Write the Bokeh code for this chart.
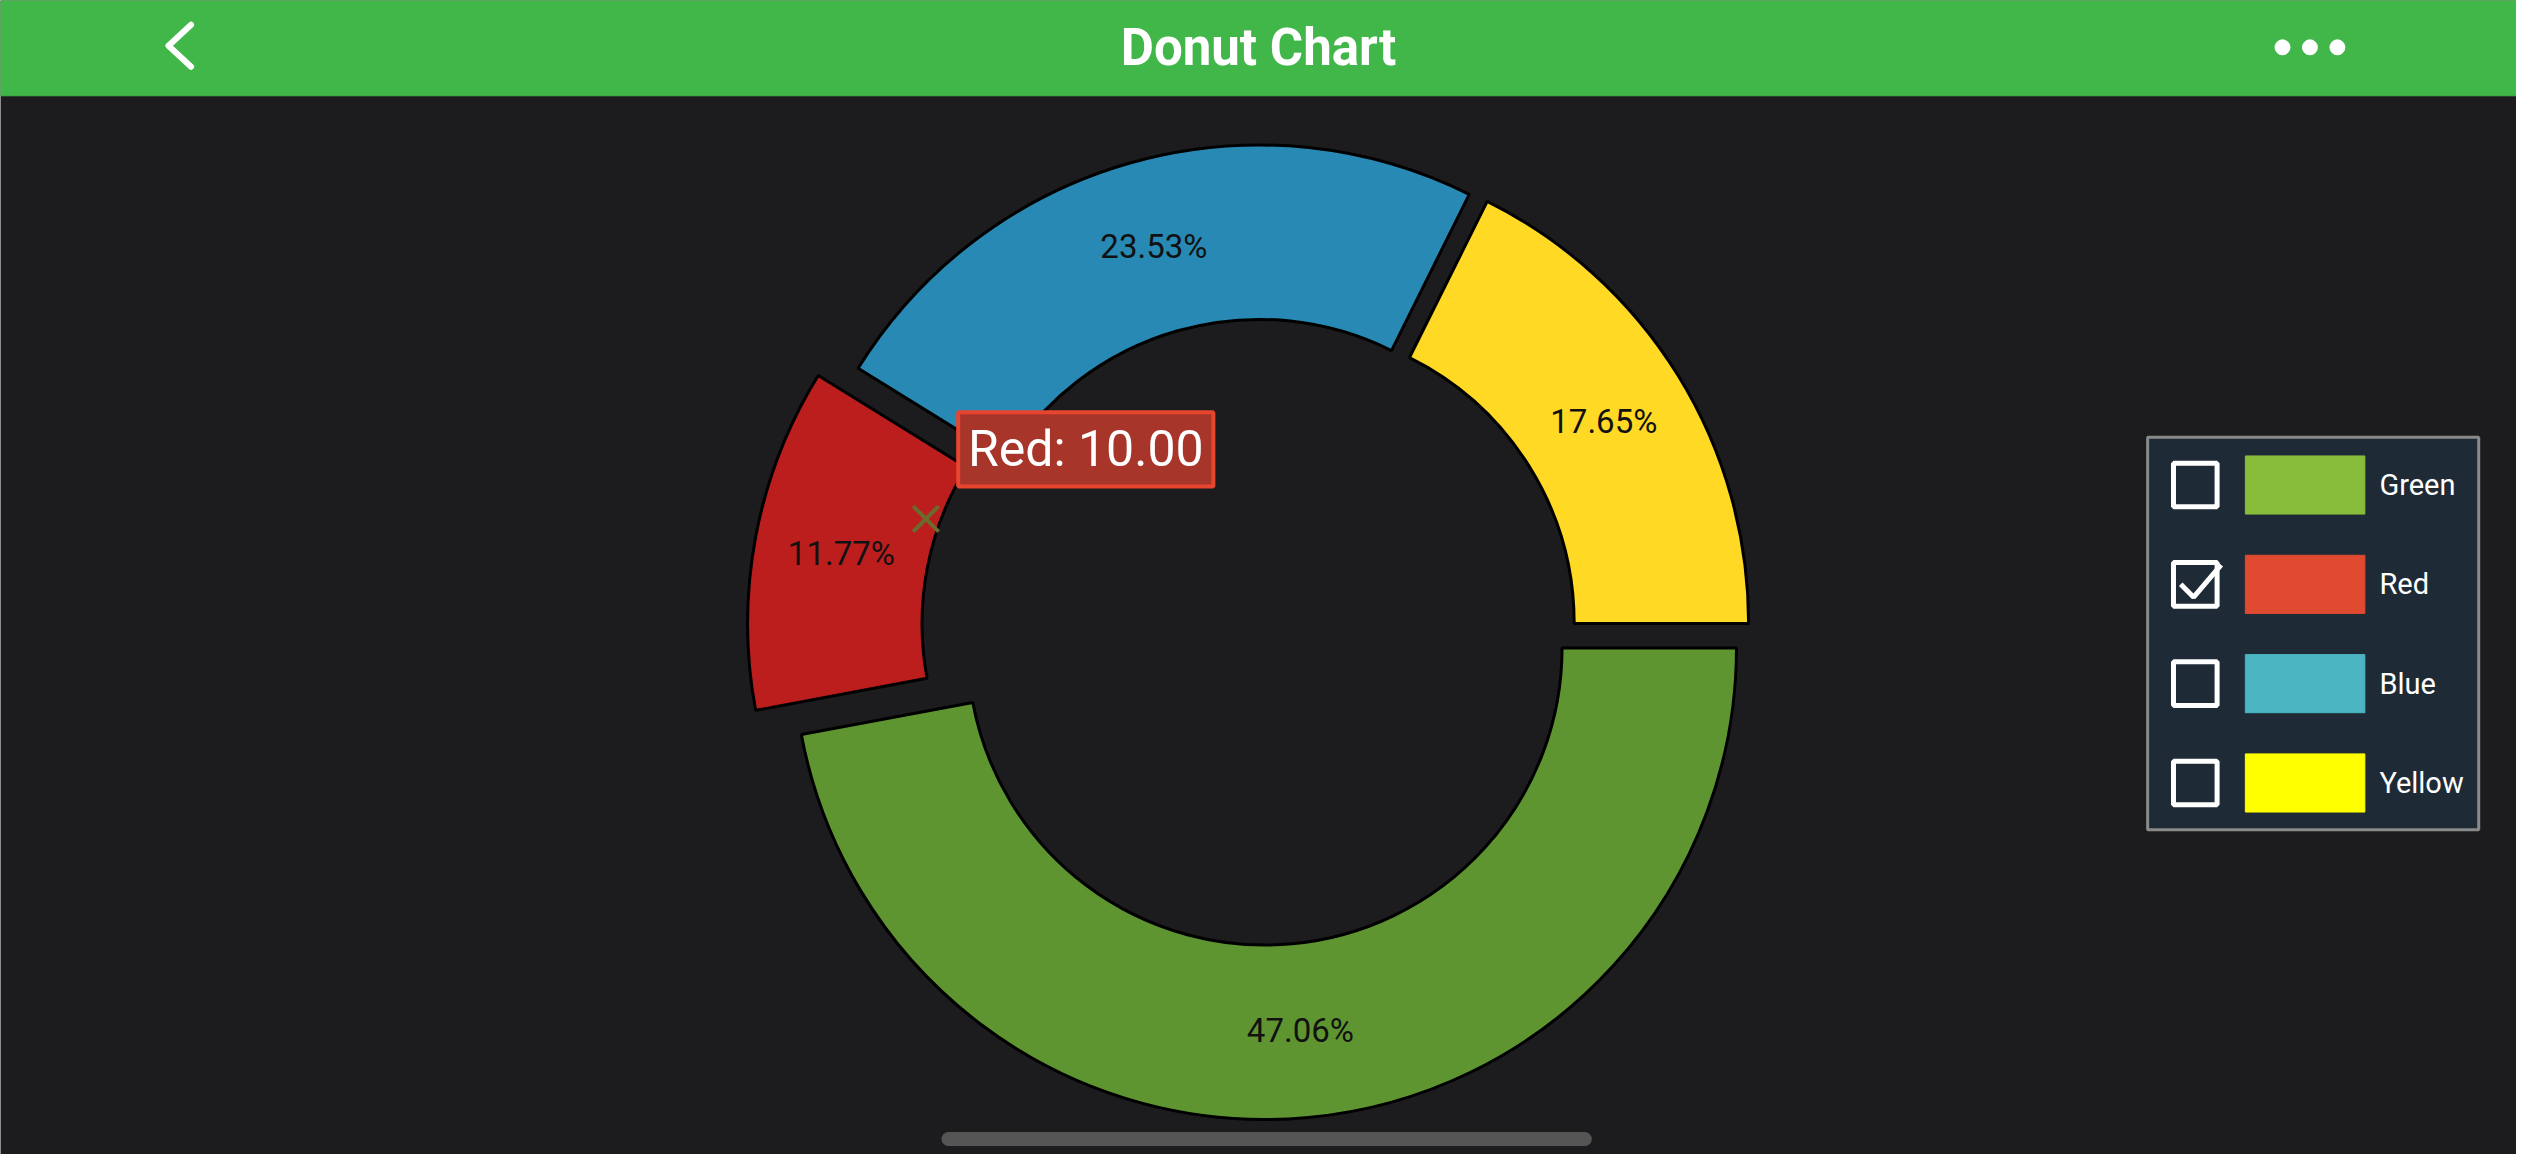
import math
from bokeh.plotting import figure
from bokeh.models import Range1d, ColumnDataSource
from bokeh.core.properties import value
from bokeh.embed import file_html
from bokeh.resources import INLINE

labels = ["Yellow", "Blue", "Red", "Green"]
values = [15, 20, 10, 40]
fills = ["#ffd924", "#2789b4", "#bc1e1e", "#5e9530"]
offsets = [16, 16, 45, 16]

legend_names = ["Green", "Red", "Blue", "Yellow"]
legend_colors = ["#88bd3c", "#e04a30", "#4ab5c0", "#ffff00"]
legend_checked = [False, True, False, False]

W, H = 2516, 1154
S = 1.615
FONT = value("Roboto")


def Y(yd):
    return H - yd * S


p = figure(width=W, height=H, output_backend="svg", toolbar_location=None,
           x_range=Range1d(0, W), y_range=Range1d(0, H), min_border=0)
p.axis.visible = False
p.grid.visible = False
p.outline_line_color = None
p.background_fill_color = "#1c1c1e"
p.border_fill_color = "#1c1c1e"

# header
p.rect(x=W / 2, y=H - 59 * S / 2, width=W, height=59 * S, color="#41b649")
p.text(x=[W / 2], y=[H - 29 * S], text=["Donut Chart"], text_color="white",
       text_font=FONT, text_font_style="bold", text_font_size="51px",
       text_align="center", text_baseline="middle")
p.line(x=[118 * S, 104 * S, 118 * S], y=[Y(15), Y(28), Y(41)],
       line_color="white", line_width=6, line_cap="round", line_join="round")
p.scatter(x=[1413 * S, 1430 * S, 1447 * S], y=[Y(29)] * 3, size=15,
          color="white")

# donut
cx, cy = 782 * S, Y(391)
R, r = 292 * S, 184 * S
total = sum(values)
starts, ends, xs, ys, lx, ly, pct = [], [], [], [], [], [], []
a = 0.0
for v, off in zip(values, offsets):
    s0 = a
    a += v / total * 2 * math.pi
    mid = (s0 + a) / 2
    ox, oy = cx + off * math.cos(mid), cy + off * math.sin(mid)
    starts.append(s0)
    ends.append(a)
    xs.append(ox)
    ys.append(oy)
    lx.append(ox + (R + r) / 2 * math.cos(mid))
    ly.append(oy + (R + r) / 2 * math.sin(mid))
    pct.append(f"{v / total * 100:.2f}%")
pct[2] = "11.77%"
src = ColumnDataSource(dict(x=xs, y=ys, s=starts, e=ends, c=fills,
                            lx=lx, ly=ly, t=pct))
p.annular_wedge(x="x", y="y", inner_radius=r, outer_radius=R,
                start_angle="s", end_angle="e", fill_color="c",
                line_color="black", line_width=3, source=src)
p.text(x="lx", y="ly", text="t", source=src, text_color="#111111",
       text_font=FONT, text_font_size="33px", text_align="center",
       text_baseline="middle")

# tooltip on red
p.scatter(x=[573 * S], y=[Y(321)], marker="x", size=36, line_width=4,
          color="#6b6b2e")
p.rect(x=672 * S, y=Y(278), width=158 * S, height=46 * S,
       fill_color="#a8352a", line_color="#e8452f", line_width=4)
p.text(x=[672 * S], y=[Y(278)], text=["Red: 10.00"], text_color="white",
       text_font=FONT, text_font_size="50px", text_align="center",
       text_baseline="middle")

# legend
p.rect(x=1432 * S, y=Y(392), width=205 * S, height=243 * S,
       fill_color="#1e2a35", line_color="#8a8a8a", line_width=3)
for i, (nm, col, chk) in enumerate(zip(legend_names, legend_colors,
                                       legend_checked)):
    yy = Y(300 + i * 61.5)
    p.rect(x=1359 * S, y=yy, width=27 * S, height=27 * S, fill_color=None,
           line_color="white", line_width=5)
    if chk:
        p.line(x=[1350 * S, 1358 * S, 1375 * S],
               y=[yy, yy - 8 * S, yy + 12 * S], line_color="white",
               line_width=5)
    p.rect(x=1427 * S, y=yy, width=74 * S, height=36 * S, color=col)
    p.text(x=[1473 * S], y=[yy], text=[nm], text_color="white",
           text_font=FONT, text_font_size="29px", text_baseline="middle")

# home indicator
p.line(x=[587 * S, 981 * S], y=[Y(705)] * 2, line_color="#555555",
       line_width=14, line_cap="round")

open("out.html", "w").write(file_html(p, INLINE))
